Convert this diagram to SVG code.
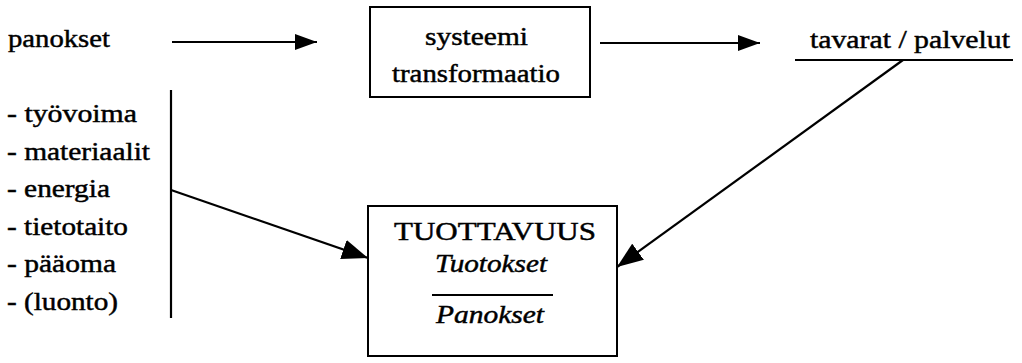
<svg xmlns="http://www.w3.org/2000/svg" width="1022" height="363" viewBox="0 0 1022 363">
<style>
text{font-family:"Liberation Serif","Times New Roman",serif;font-size:25px;fill:#000;stroke:#000;stroke-width:0.45}
.it{font-style:italic}
.box{fill:none;stroke:#000;stroke-width:2}
.ln{fill:none;stroke:#000;stroke-width:2.2}
</style>
<defs>
<marker id="ah" markerUnits="userSpaceOnUse" markerWidth="22" markerHeight="16" refX="22" refY="8" orient="auto">
<path d="M0,0 L22,8 L0,16 z" fill="#000"/>
</marker>
<marker id="ah2" markerUnits="userSpaceOnUse" markerWidth="26" markerHeight="20" refX="26" refY="10" orient="auto">
<path d="M0,0 L26,10 L0,20 z" fill="#000"/>
</marker>
</defs>
<rect width="1022" height="363" fill="#fff"/>
<g id="panokset">
<text x="8" y="47" textLength="102" lengthAdjust="spacingAndGlyphs">panokset</text>
</g>
<g id="systeemi">
<rect class="box" x="370" y="7" width="220" height="90"/>
<text x="425" y="45" textLength="103" lengthAdjust="spacingAndGlyphs">systeemi</text>
<text x="392" y="82" textLength="168" lengthAdjust="spacingAndGlyphs">transformaatio</text>
</g>
<g id="tavarat">
<text x="810" y="48" textLength="200" lengthAdjust="spacingAndGlyphs">tavarat / palvelut</text>
<line class="ln" x1="795" y1="60" x2="1013" y2="60"/>
</g>
<g id="lista">
<text x="7" y="122" textLength="130" lengthAdjust="spacingAndGlyphs">- työvoima</text>
<text x="7" y="160" textLength="143" lengthAdjust="spacingAndGlyphs">- materiaalit</text>
<text x="7" y="197" textLength="103" lengthAdjust="spacingAndGlyphs">- energia</text>
<text x="7" y="235" textLength="121" lengthAdjust="spacingAndGlyphs">- tietotaito</text>
<text x="7" y="272" textLength="109" lengthAdjust="spacingAndGlyphs">- pääoma</text>
<text x="7" y="310" textLength="111" lengthAdjust="spacingAndGlyphs">- (luonto)</text>
<line class="ln" x1="171" y1="90" x2="171" y2="318"/>
</g>
<g id="tuottavuus">
<rect class="box" x="368" y="206" width="249" height="150"/>
<text x="394" y="240" textLength="202" lengthAdjust="spacingAndGlyphs">TUOTTAVUUS</text>
<text class="it" x="435" y="272" textLength="112" lengthAdjust="spacingAndGlyphs">Tuotokset</text>
<line class="ln" x1="432" y1="295" x2="553" y2="295"/>
<text class="it" x="436" y="323" textLength="108" lengthAdjust="spacingAndGlyphs">Panokset</text>
</g>
<g id="connectors">
<line class="ln" x1="172" y1="42" x2="317" y2="42" marker-end="url(#ah)"/>
<line class="ln" x1="600" y1="43" x2="760" y2="43" marker-end="url(#ah)"/>
<line class="ln" x1="171" y1="190" x2="368" y2="258" marker-end="url(#ah2)"/>
<line class="ln" x1="903" y1="60" x2="617" y2="267" marker-end="url(#ah2)"/>
</g>
</svg>
